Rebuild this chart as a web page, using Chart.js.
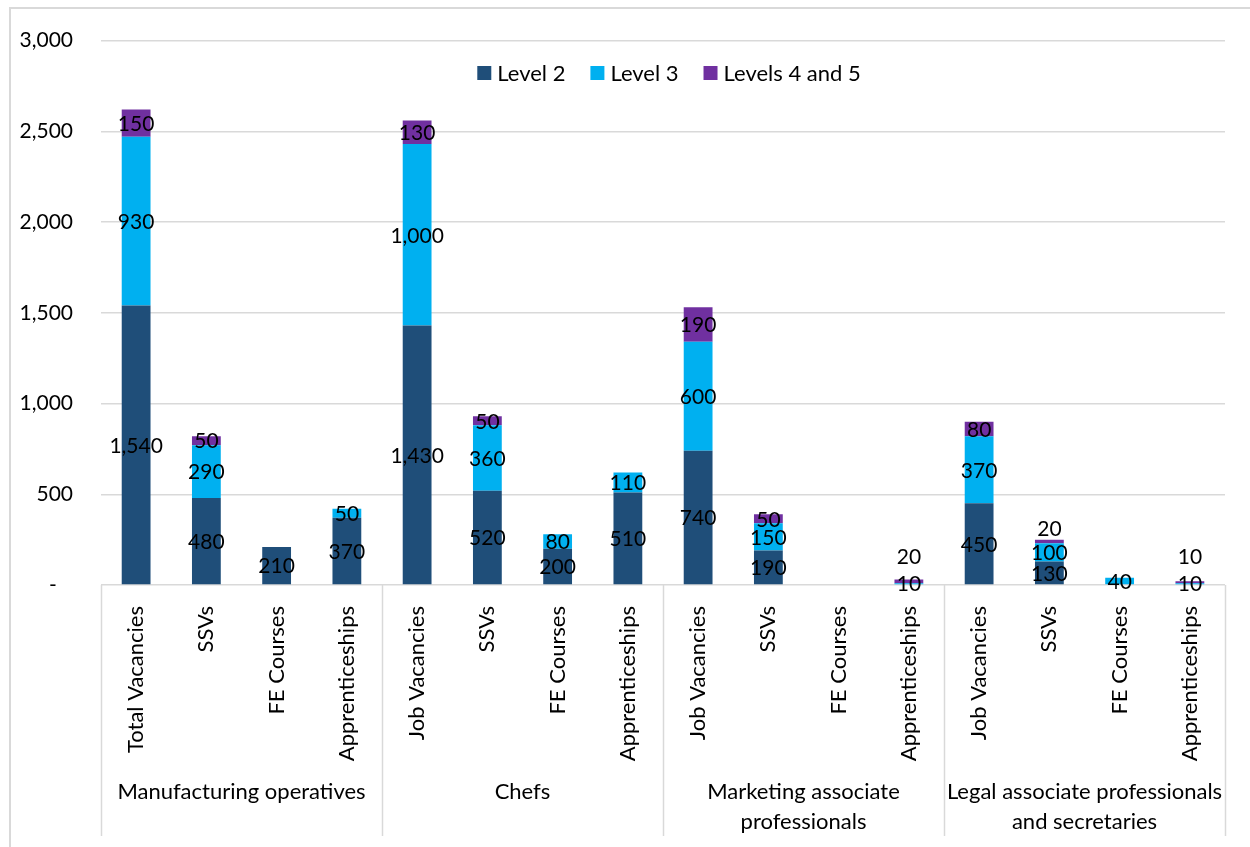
<!DOCTYPE html>
<html>
<head>
<meta charset="utf-8">
<script src="https://cdn.jsdelivr.net/npm/chart.js@4.4.0/dist/chart.umd.min.js"></script>
<style>
  body { margin: 0; background: #fff; }
  canvas { display: block; }
</style>
</head>
<body>
<canvas id="vacanciesChart" width="1250" height="847"></canvas>
<script>
const subCategories = ['Total Vacancies', 'SSVs', 'FE Courses', 'Apprenticeships',
    'Job Vacancies', 'SSVs', 'FE Courses', 'Apprenticeships',
    'Job Vacancies', 'SSVs', 'FE Courses', 'Apprenticeships',
    'Job Vacancies', 'SSVs', 'FE Courses', 'Apprenticeships']
const occupations = ['Manufacturing operatives', 'Chefs',
    ['Marketing associate', 'professionals'],
    ['Legal associate professionals', 'and secretaries']]
const level2 = [1540, 480, 210, 370, 1430, 520, 200, 510, 740, 190, 0, 0, 450, 130, 0, 0]
const level3 = [930, 290, 0, 50, 1000, 360, 80, 110, 600, 150, 0, 10, 370, 100, 40, 10]
const level45 = [150, 50, 0, 0, 130, 50, 0, 0, 190, 50, 0, 20, 80, 20, 0, 10]
const yTicks = [0, 500, 1000, 1500, 2000, 2500, 3000]

const FONT = 'Lato, "Noto Sans", sans-serif'
const gridGrey = '#d9d9d9'

function fmt(v) {
    return v.toLocaleString('en-GB')
}

// outer frame round the whole chart
const framePlugin = {
    id: 'frame',
    beforeDraw(chart) {
        let ctx = chart.ctx
        ctx.save()
        ctx.strokeStyle = gridGrey
        ctx.lineWidth = 2
        ctx.strokeRect(10, 8, chart.width, chart.height)
        ctx.restore()
    }
}

// separators between occupation groups, running down through the axis labels
const groupLinesPlugin = {
    id: 'groupLines',
    afterDraw(chart) {
        let xs = chart.scales.x
        let half = (xs.getPixelForValue(1) - xs.getPixelForValue(0)) / 2
        let top = chart.scales.y.getPixelForValue(0)
        let ctx = chart.ctx
        ctx.save()
        ctx.strokeStyle = gridGrey
        ctx.lineWidth = 1.5
        for (let g = 0; g <= occupations.length; g++) {
            let x = Math.round(xs.getPixelForValue(g * 4) - half) + 0.5
            ctx.beginPath()
            ctx.moveTo(x, top)
            ctx.lineTo(x, top + 251)
            ctx.stroke()
        }
        ctx.restore()
    }
}

// value labels in the middle of each stacked segment
const segmentLabelsPlugin = {
    id: 'segmentLabels',
    afterDatasetsDraw(chart) {
        let ctx = chart.ctx
        let base = chart.scales.y.getPixelForValue(0)
        ctx.save()
        ctx.font = '21px ' + FONT
        ctx.fillStyle = '#000'
        ctx.textAlign = 'center'
        ctx.textBaseline = 'middle'
        chart.data.datasets.forEach((ds, i) => {
            let meta = chart.getDatasetMeta(i)
            meta.data.forEach((bar, j) => {
                let v = ds.data[j]
                if (!v) return
                let y = (bar.y + bar.base) / 2
                // tiny top segments get their label lifted above the bar
                if (i === chart.data.datasets.length - 1 && bar.base - bar.y < 5) {
                    y = Math.min(bar.y - 11, base - 29)
                }
                ctx.fillText(fmt(v), bar.x, y + 1)
            })
        })
        ctx.restore()
    }
}

// legend drawn inside the plot, centred near the top
const insideLegendPlugin = {
    id: 'insideLegend',
    afterDraw(chart) {
        let ctx = chart.ctx
        let area = chart.chartArea
        ctx.save()
        ctx.font = '22px ' + FONT
        ctx.textBaseline = 'middle'
        let box = 14, gap = 6, spacing = 25
        let items = chart.data.datasets.map(ds => ({ text: ds.label, color: ds.backgroundColor }))
        let total = 0
        items.forEach((it, k) => {
            it.w = box + gap + ctx.measureText(it.text).width
            total += it.w + (k > 0 ? spacing : 0)
        })
        let x = (area.left + area.right) / 2 - total / 2 + 6
        let y = 73
        items.forEach(it => {
            ctx.fillStyle = it.color
            ctx.fillRect(x, y - box / 2, box, box)
            ctx.fillStyle = '#000'
            ctx.fillText(it.text, x + box + gap, y + 1)
            x += it.w + spacing
        })
        ctx.restore()
    }
}

var vacanciesChart = document.getElementById('vacanciesChart')
let stackedChart = new Chart(vacanciesChart, {
    type: 'bar',
    data: {
        labels: subCategories,
        datasets: [{
            label: 'Level 2',
            data: level2,
            backgroundColor: '#1f4e79'
        }, {
            label: 'Level 3',
            data: level3,
            backgroundColor: '#00b0f0'
        }, {
            label: 'Levels 4 and 5',
            data: level45,
            backgroundColor: '#7030a0'
        }]
    },
    options: {
        responsive: false,
        animation: false,
        devicePixelRatio: 1,
        layout: { padding: { left: 10, top: 40, right: 25, bottom: 0 } },
        datasets: { bar: { categoryPercentage: 1, barPercentage: 0.41 } },
        plugins: {
            legend: { display: false },
            tooltip: { enabled: false }
        },
        scales: {
            x: {
                stacked: true,
                grid: { display: false },
                border: { display: false },
                ticks: {
                    autoSkip: false,
                    minRotation: 90,
                    maxRotation: 90,
                    padding: 13,
                    color: '#000',
                    font: { family: FONT, size: 22 }
                },
                afterFit(scale) { scale.height = 185 }
            },
            groups: {
                type: 'category',
                labels: occupations,
                position: 'bottom',
                offset: true,
                grid: { display: false },
                border: { display: false },
                ticks: {
                    autoSkip: false,
                    maxRotation: 0,
                    padding: -1,
                    color: '#000',
                    font: { family: FONT, size: 22, lineHeight: 1.36 }
                },
                afterFit(scale) { scale.height = 77 }
            },
            y: {
                stacked: true,
                min: 0,
                max: 3000,
                afterBuildTicks(scale) { scale.ticks = yTicks.map(v => ({ value: v })) },
                grid: { color: gridGrey, lineWidth: 1.5, drawTicks: false },
                border: { display: false },
                ticks: {
                    padding: 28,
                    color: '#000',
                    font: { family: FONT, size: 21 },
                    callback: v => v === 0 ? '-   ' : fmt(v)
                },
                afterFit(scale) { scale.width = 91 }
            }
        }
    },
    plugins: [framePlugin, groupLinesPlugin, segmentLabelsPlugin, insideLegendPlugin]
})
</script>
</body>
</html>
